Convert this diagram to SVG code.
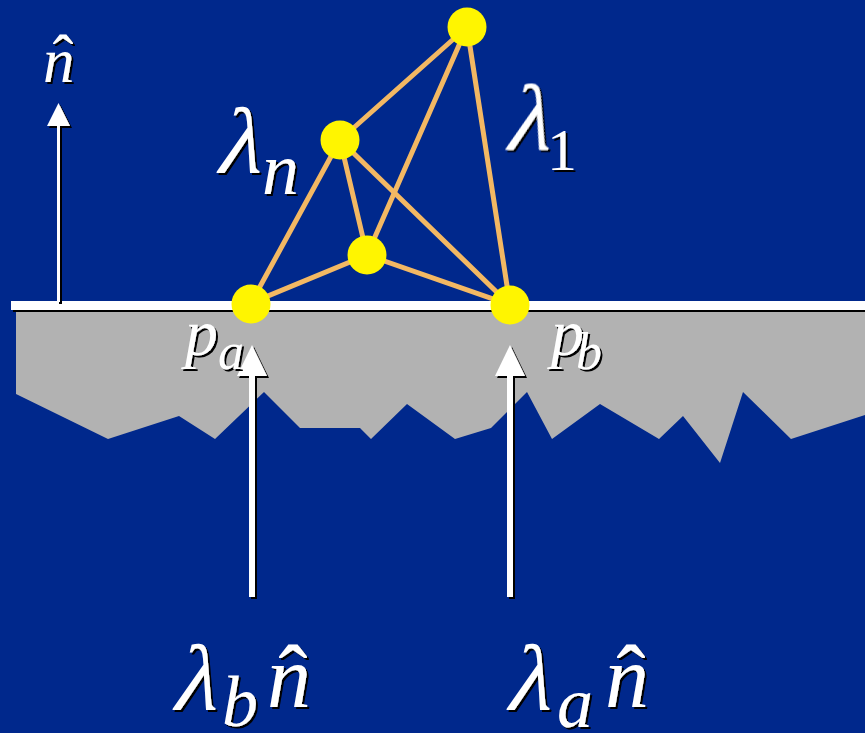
<svg xmlns="http://www.w3.org/2000/svg" width="865" height="733" viewBox="0 0 865 733">
<defs>
<filter id="sh" x="-20%" y="-20%" width="140%" height="140%">
<feDropShadow dx="2" dy="2" stdDeviation="0" flood-color="#000" flood-opacity="1"/>
</filter>
<style>
.edge{stroke:#F3B863;stroke-width:5;stroke-linecap:round;fill:none}
.node{fill:#FFF500}
.w{fill:#fff}
.t{fill:#fff;font-family:"Liberation Serif","Times New Roman",serif;font-style:italic}
.r{font-style:normal}
</style>
</defs>
<rect x="0" y="0" width="865" height="733" fill="#00288C"/>
<polygon id="ground" fill="#B2B2B2" points="16,308 865,308 865,415 791,439 743,392 720,463 683,416 659,439 600,404 552,439 527,392 491,428 455,439 407,404 371,439 360,428 300,428 264,392 215,439 179,416 108,439 16,394"/>
<g filter="url(#sh)">
<rect id="surface" x="11" y="301" width="854" height="9" class="w"/>
</g>
<g id="connectors">
<line class="edge" x1="467" y1="27" x2="340" y2="140"/>
<line class="edge" x1="467" y1="27" x2="367" y2="255"/>
<line class="edge" x1="467" y1="27" x2="510" y2="305"/>
<line class="edge" x1="340" y1="140" x2="251" y2="303"/>
<line class="edge" x1="340" y1="140" x2="367" y2="255"/>
<line class="edge" x1="340" y1="140" x2="510" y2="305"/>
<line class="edge" x1="367" y1="255" x2="251" y2="303"/>
<line class="edge" x1="367" y1="255" x2="510" y2="305"/>
</g>
<g id="arrows" filter="url(#sh)">
<g id="arrow-normal"><rect x="57" y="124" width="3" height="178" class="w"/><polygon class="w" points="58.5,103 47,126 70,126"/></g>
<g id="arrow-a"><rect x="249" y="372" width="6" height="225" class="w"/><polygon class="w" points="252,345 237,376 267,376"/></g>
<g id="arrow-b"><rect x="507" y="372" width="6" height="225" class="w"/><polygon class="w" points="510,345 495,376 525,376"/></g>
</g>
<g id="n-top" class="node"><circle cx="467" cy="27" r="19.5"/></g>
<g id="n-mid" class="node"><circle cx="340" cy="140" r="19.5"/></g>
<g id="n-low" class="node"><circle cx="367" cy="255" r="19.5"/></g>
<g id="n-pa" class="node"><circle cx="251" cy="304" r="19.5"/></g>
<g id="n-pb" class="node"><circle cx="510" cy="305" r="19.5"/></g>
<g id="labels" filter="url(#sh)">
<g id="lbl-nhat"><text class="t" x="43" y="82" font-size="63">n</text><text class="t r" x="63" y="79" font-size="63" text-anchor="middle">ˆ</text></g>
<g id="lbl-ln"><text class="t r" transform="translate(214,173) skewX(-14)" font-size="94">λ</text><text class="t" x="262" y="194" font-size="74">n</text></g>
<g id="lbl-l1"><text class="t r" transform="translate(503,150) skewX(-14)" font-size="94">λ</text><text class="t r" x="547" y="170" font-size="60">1</text></g>
<g id="lbl-pa"><text class="t" x="185" y="355" font-size="66">p</text><text class="t" x="218" y="369" font-size="52">a</text></g>
<g id="lbl-pb"><text class="t" x="551" y="355" font-size="66">p</text><text class="t" x="576" y="369" font-size="52">b</text></g>
<g id="lbl-lbn"><text class="t r" transform="translate(170,710) skewX(-14)" font-size="94">λ</text><text class="t" x="222" y="726" font-size="72">b</text><text class="t" x="267" y="707" font-size="88">n</text><text class="t r" x="293" y="707" font-size="88" text-anchor="middle">ˆ</text></g>
<g id="lbl-lan"><text class="t r" transform="translate(504,710) skewX(-14)" font-size="94">λ</text><text class="t" x="557" y="727" font-size="72">a</text><text class="t" x="605" y="707" font-size="88">n</text><text class="t r" x="631" y="707" font-size="88" text-anchor="middle">ˆ</text></g>
</g>
</svg>
